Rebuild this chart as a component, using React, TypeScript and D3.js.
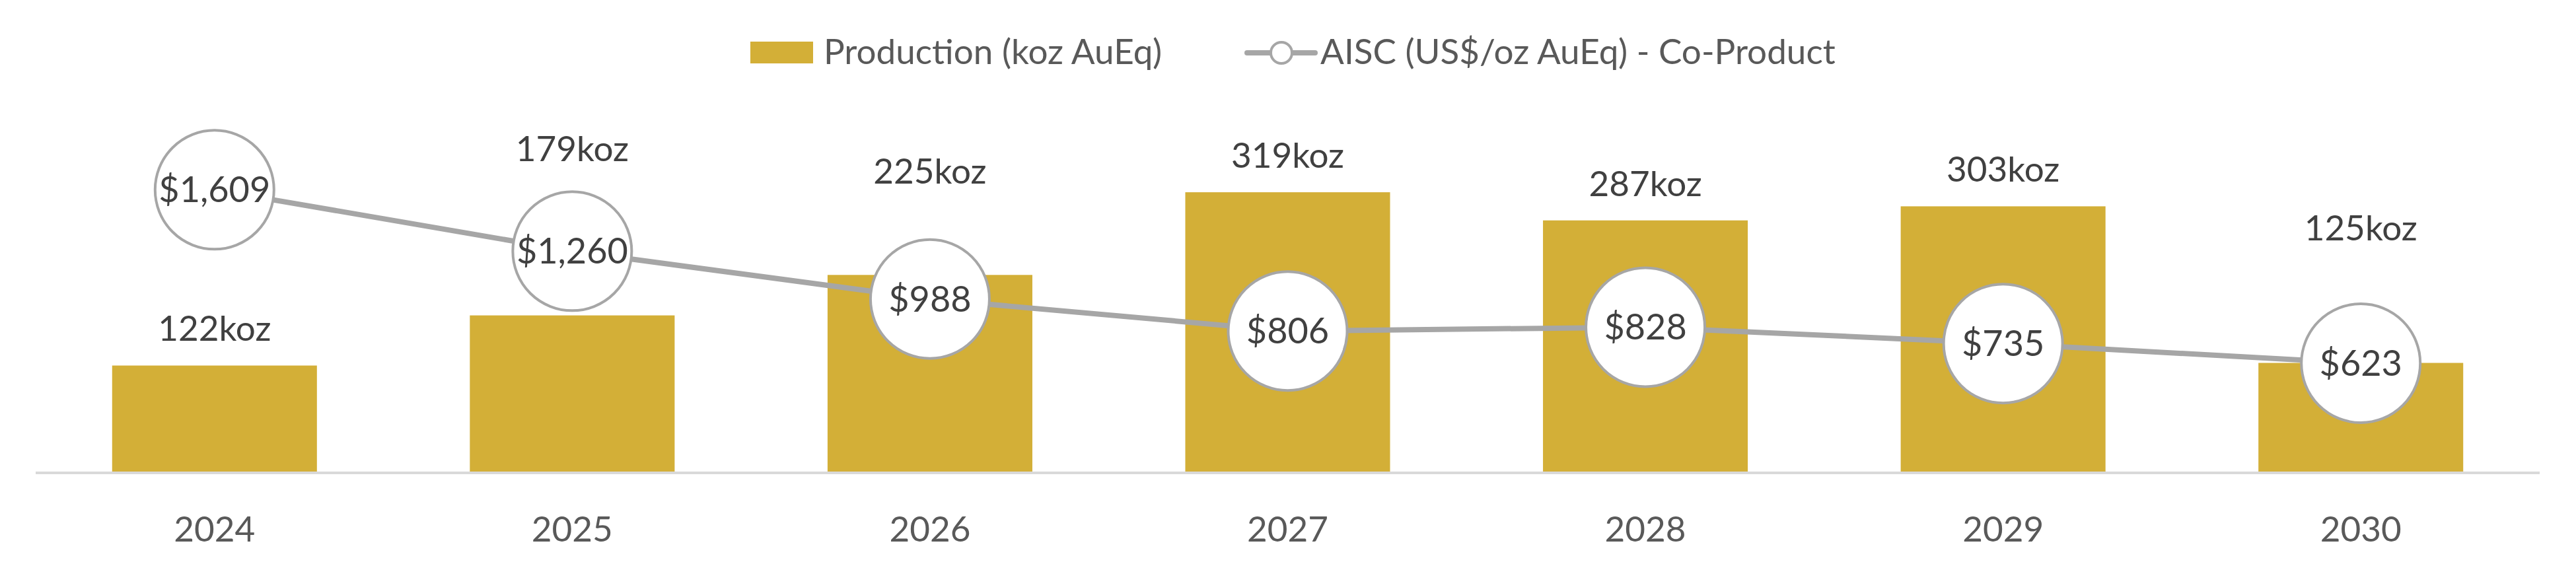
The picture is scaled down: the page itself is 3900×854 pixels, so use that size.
import React from 'react';
import * as d3 from 'd3';

const years = ['2024', '2025', '2026', '2027', '2028', '2029', '2030'];
const production = [122, 179, 225, 319, 287, 303, 125];
const aisc = [1609, 1260, 988, 806, 828, 735, 623];
// extra lift (px) applied to a few production labels so they clear the cost bubbles
const labelLift = [0, 197, 101, 0, 0, 0, 149];

const W = 3900;
const H = 854;
const FONT = 'Lato, "Open Sans", sans-serif';
const GOLD = '#D3AF37';
const GREY = '#A6A6A6';

export default function App() {
  const x = d3.scaleBand<string>()
    .domain(years)
    .range([54, 3845])
    .paddingInner(0.4275)
    .paddingOuter(0.21375);

  const yProd = d3.scaleLinear().domain([0, 500]).range([716, 50]);
  const yCost = d3.scaleLinear().domain([0, 2500]).range([716, 50]);

  const cx = (i: number) => (x(years[i]) ?? 0) + x.bandwidth() / 2;

  const line = d3.line<number>()
    .x((_, i) => cx(i))
    .y(d => yCost(d));

  const fmtCost = (v: number) => '$' + d3.format(',')(v);

  return (
    <svg width={W} height={H} style={{ position: 'absolute', left: 0, top: 0, background: '#fff' }}
      fontFamily={FONT}>
      {/* bars */}
      <g>
        {production.map((v, i) => (
          <rect key={years[i]} x={x(years[i])} y={yProd(v)} width={x.bandwidth()}
            height={yProd(0) - yProd(v)} fill={GOLD} />
        ))}
      </g>

      {/* category axis */}
      <line x1={54} x2={3845} y1={yProd(0)} y2={yProd(0)} stroke="#D9D9D9" strokeWidth={4} />
      <g>
        {years.map((yr, i) => (
          <text key={yr} x={cx(i)} y={820} textAnchor="middle" fontSize={53} fill="#595959">{yr}</text>
        ))}
      </g>

      {/* production labels */}
      <g>
        {production.map((v, i) => (
          <text key={years[i]} x={cx(i)} y={yProd(v) - 37 - labelLift[i]} textAnchor="middle"
            fontSize={53} fill="#404040">{v}koz</text>
        ))}
      </g>

      {/* AISC line with bubble markers */}
      <path d={line(aisc) ?? ''} fill="none" stroke={GREY} strokeWidth={8} />
      <g>
        {aisc.map((v, i) => (
          <g key={years[i]} transform={`translate(${cx(i)},${yCost(v)})`}>
            <circle r={90} fill="#fff" stroke={GREY} strokeWidth={4} />
            <text y={19} textAnchor="middle" fontSize={54} fill="#404040">{fmtCost(v)}</text>
          </g>
        ))}
      </g>

      {/* legend */}
      <g>
        <rect x={1136} y={63} width={95} height={33} fill={GOLD} />
        <text x={1247} y={97} fontSize={53} fill="#595959">Production (koz AuEq)</text>
        <line x1={1888} x2={1991} y1={80} y2={80} stroke={GREY} strokeWidth={8} strokeLinecap="round" />
        <circle cx={1940} cy={80} r={16} fill="#fff" stroke={GREY} strokeWidth={4} />
        <text x={1999} y={97} fontSize={53} fill="#595959">AISC (US$/oz AuEq) - Co-Product</text>
      </g>
    </svg>
  );
}
